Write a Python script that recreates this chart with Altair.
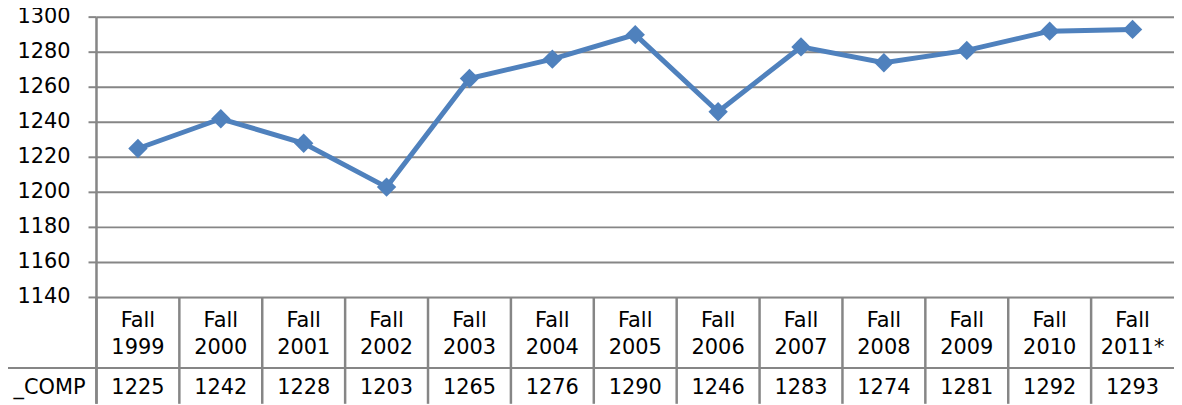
import altair as alt
import pandas as pd

categories = ["Fall 1999", "Fall 2000", "Fall 2001", "Fall 2002", "Fall 2003", "Fall 2004",
              "Fall 2005", "Fall 2006", "Fall 2007", "Fall 2008", "Fall 2009", "Fall 2010", "Fall 2011*"]
header_top = ["Fall"] * 13
header_bottom = ["1999", "2000", "2001", "2002", "2003", "2004", "2005", "2006", "2007",
                 "2008", "2009", "2010", "2011*"]
values = [1225, 1242, 1228, 1203, 1265, 1276, 1290, 1246, 1283, 1274, 1281, 1292, 1293]
row_label = "_COMP"
y_ticks = [1140, 1160, 1180, 1200, 1220, 1240, 1260, 1280, 1300]

FONT = "DejaVu Sans"
FS = 21
GRAY = "#868686"
BLUE = "#4F81BD"
W = 1084
H = 282
TABLE_BOTTOM = 389

df = pd.DataFrame({"cat": categories, "top": header_top, "bottom": header_bottom, "value": values})
df["vtext"] = df["value"].astype(str)
ticks_df = pd.DataFrame({"tick": y_ticks})
ticks_df["lab"] = ticks_df["tick"].astype(str)

yscale = alt.Scale(domain=[1140, 1300], nice=False, zero=False)
xs = alt.X("cat:N", sort=categories, axis=None,
           scale=alt.Scale(paddingInner=0, paddingOuter=0))

base = alt.Chart(df)
tb = alt.Chart(ticks_df)

grid = tb.mark_rule(color=GRAY, strokeWidth=2).encode(
    y=alt.Y("tick:Q", scale=yscale, axis=None), x=alt.value(0), x2=alt.value(W))
tickmarks = tb.mark_rule(color=GRAY, strokeWidth=2).encode(
    y=alt.Y("tick:Q", scale=yscale, axis=None), x=alt.value(-8), x2=alt.value(0))
ticklabels = tb.mark_text(font=FONT, fontSize=FS, color="black", align="right",
                          baseline="middle").encode(
    y=alt.Y("tick:Q", scale=yscale, axis=None), x=alt.value(-26), text="lab:N")
yaxis_line = alt.Chart(pd.DataFrame({"k": [0]})).mark_rule(color=GRAY, strokeWidth=2.5).encode(
    x=alt.value(0), y=alt.value(0), y2=alt.value(TABLE_BOTTOM))

line = base.mark_line(color=BLUE, strokeWidth=5).encode(
    x=xs, y=alt.Y("value:Q", scale=yscale, axis=None))
points = base.mark_point(shape="diamond", filled=True, opacity=1, color=BLUE, size=380).encode(
    x=xs, y=alt.Y("value:Q", scale=yscale, axis=None))

t_top = base.mark_text(font=FONT, fontSize=FS, color="black", baseline="middle").encode(
    x=xs, y=alt.value(306), text="top:N")
t_bot = base.mark_text(font=FONT, fontSize=FS, color="black", baseline="middle").encode(
    x=xs, y=alt.value(333), text="bottom:N")
t_val = base.mark_text(font=FONT, fontSize=FS, color="black", baseline="middle").encode(
    x=xs, y=alt.value(373), text="vtext:N")

vborders = base.mark_rule(color=GRAY, strokeWidth=2.5).encode(
    x=alt.X("cat:N", sort=categories, axis=None, bandPosition=0,
            scale=alt.Scale(paddingInner=0, paddingOuter=0)),
    y=alt.value(H), y2=alt.value(TABLE_BOTTOM))
hline = alt.Chart(pd.DataFrame({"k": [0]})).mark_rule(color=GRAY, strokeWidth=2).encode(
    x=alt.value(-89), x2=alt.value(W), y=alt.value(353))
label = alt.Chart(pd.DataFrame({"t": [row_label]})).mark_text(
    font=FONT, fontSize=FS, color="black", align="right", baseline="middle").encode(
    x=alt.value(-11), y=alt.value(373), text="t:N")

chart = alt.layer(grid, tickmarks, vborders, hline, yaxis_line, line, points,
                  ticklabels, t_top, t_bot, t_val, label).properties(
    width=W, height=H,
    autosize=alt.AutoSizeParams(type="none"),
    padding={"left": 89, "top": 8, "right": 0, "bottom": TABLE_BOTTOM - H},
).configure_view(stroke=None).configure(background="white")

chart.save("out.html", embed_options={"renderer": "svg", "actions": False})
